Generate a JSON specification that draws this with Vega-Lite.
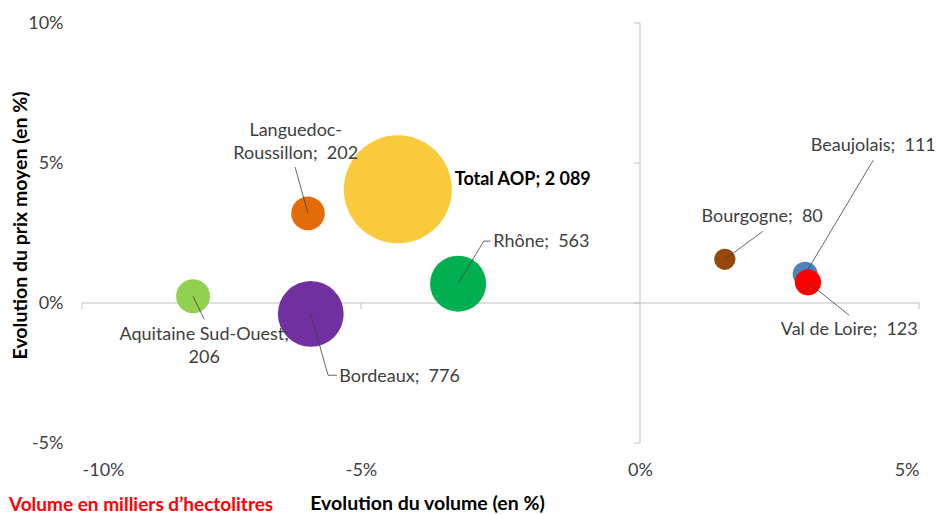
{
  "$schema": "https://vega.github.io/schema/vega-lite/v6.json",
  "width": 837,
  "height": 420,
  "autosize": {"type": "none"},
  "padding": {"left": 82, "top": 23, "right": 20, "bottom": 71},
  "background": "white",
  "config": {
    "view": {"stroke": null},
    "font": "Lato",
    "text": {"font": "Lato"},
    "axisX": {
      "labelExpr": "datum.value + '%'",
      "domain": false, "ticks": false, "grid": false,
      "labelPadding": 18,
      "labelFontSize": 18,
      "labelColor": "#404040",
      "labelFont": "Lato",
      "titleFont": "Lato",
      "titleFontSize": 19.5,
      "titleFontWeight": "bold",
      "titleColor": "#000000",
      "titleX": 345,
      "titleY": 60,
      "titleBaseline": "middle",
      "titleAlign": "center"
    },
    "axisY": {
      "labelExpr": "datum.value + '%'",
      "domain": false, "ticks": false, "grid": false,
      "labelPadding": 19,
      "labelFontSize": 18,
      "labelColor": "#404040",
      "labelFont": "Lato",
      "titleFont": "Lato",
      "titleFontSize": 19.5,
      "titleFontWeight": "bold",
      "titleColor": "#000000",
      "titleX": -62,
      "titleY": 202,
      "titleAngle": -90,
      "titleBaseline": "middle",
      "titleAlign": "center"
    }
  },
  "title": {
    "text": "Volume en milliers d’hectolitres",
    "orient": "bottom",
    "anchor": "start",
    "frame": "group",
    "dx": -73,
    "offset": -17,
    "color": "#FF0000",
    "fontSize": 19,
    "fontWeight": "bold",
    "font": "Lato"
  },
  "datasets": {
    "bubbles": [
      {"name": "Total AOP", "x": -4.34, "y": 4.06, "volume": 2089},
      {"name": "Bordeaux", "x": -5.9, "y": -0.39, "volume": 776},
      {"name": "Rhône", "x": -3.26, "y": 0.69, "volume": 563},
      {"name": "Aquitaine Sud-Ouest", "x": -8.01, "y": 0.24, "volume": 206},
      {"name": "Languedoc-Roussillon", "x": -5.95, "y": 3.2, "volume": 202},
      {"name": "Bourgogne", "x": 1.52, "y": 1.56, "volume": 80},
      {"name": "Beaujolais", "x": 2.96, "y": 1.03, "volume": 111},
      {"name": "Val de Loire", "x": 3.01, "y": 0.74, "volume": 123}
    ],
    "leaders": [
      {"name": "Aquitaine Sud-Ouest", "ord": 1, "x": -8.01, "y": 0.24},
      {"name": "Aquitaine Sud-Ouest", "ord": 2, "x": -7.81, "y": -0.58},
      {"name": "Languedoc-Roussillon", "ord": 1, "x": -5.95, "y": 3.2},
      {"name": "Languedoc-Roussillon", "ord": 2, "x": -6.18, "y": 4.85},
      {"name": "Rhône", "ord": 1, "x": -3.26, "y": 0.69},
      {"name": "Rhône", "ord": 2, "x": -2.8, "y": 2.21},
      {"name": "Rhône", "ord": 3, "x": -2.68, "y": 2.21},
      {"name": "Bordeaux", "ord": 1, "x": -5.9, "y": -0.39},
      {"name": "Bordeaux", "ord": 2, "x": -5.59, "y": -2.58},
      {"name": "Bordeaux", "ord": 3, "x": -5.43, "y": -2.58},
      {"name": "Bourgogne", "ord": 1, "x": 1.52, "y": 1.56},
      {"name": "Bourgogne", "ord": 2, "x": 2.2, "y": 2.56},
      {"name": "Beaujolais", "ord": 1, "x": 2.96, "y": 1.03},
      {"name": "Beaujolais", "ord": 2, "x": 4.18, "y": 5.1},
      {"name": "Val de Loire", "ord": 1, "x": 3.01, "y": 0.74},
      {"name": "Val de Loire", "ord": 2, "x": 3.75, "y": -0.44}
    ],
    "labelsCenter": [
      {"label": "Languedoc-\nRoussillon;\u00a0 202", "x": -6.17, "y": 6.13},
      {"label": "Aquitaine Sud-Ouest;\n206", "x": -7.81, "y": -1.15},
      {"label": "Bourgogne;\u00a0 80", "x": 2.19, "y": 3.07},
      {"label": "Beaujolais;\u00a0 111", "x": 4.18, "y": 5.61},
      {"label": "Val de Loire;\u00a0 123", "x": 3.75, "y": -0.98}
    ],
    "labelsLeft": [
      {"label": "Rhône;\u00a0 563", "x": -2.63, "y": 2.18},
      {"label": "Bordeaux;\u00a0 776", "x": -5.39, "y": -2.65}
    ],
    "labelsBold": [
      {"label": "Total AOP; 2 089", "x": -3.32, "y": 4.41}
    ],
    "vTicks": [{"x": 0, "y": -5}, {"x": 0, "y": 0}, {"x": 0, "y": 5}, {"x": 0, "y": 10}],
    "hTicks": [{"x": -10, "y": 0}, {"x": -5, "y": 0}, {"x": 5, "y": 0}],
    "vAxis": [{"x": 0, "y": -5, "y2": 10}],
    "hAxis": [{"x": -10, "x2": 5, "y": 0}]
  },
  "layer": [
    {
      "data": {"name": "vAxis"},
      "mark": {"type": "rule", "color": "#BFBFBF", "strokeWidth": 1},
      "encoding": {
        "x": {
          "field": "x", "type": "quantitative",
          "scale": {"domain": [-10, 5], "nice": false, "zero": false},
          "axis": {"values": [-10, -5, 0, 5]},
          "title": "Evolution du volume (en %)"
        },
        "y": {
          "field": "y", "type": "quantitative",
          "scale": {"domain": [-5, 10], "nice": false, "zero": false},
          "axis": {"values": [-5, 0, 5, 10]},
          "title": "Evolution du prix moyen (en %)"
        },
        "y2": {"field": "y2"}
      }
    },
    {
      "data": {"name": "hAxis"},
      "mark": {"type": "rule", "color": "#BFBFBF", "strokeWidth": 1},
      "encoding": {
        "x": {"field": "x", "type": "quantitative", "title": "Evolution du volume (en %)", "axis": {"values": [-10, -5, 0, 5]}},
        "x2": {"field": "x2"},
        "y": {"field": "y", "type": "quantitative", "title": "Evolution du prix moyen (en %)", "axis": {"values": [-5, 0, 5, 10]}}
      }
    },
    {
      "data": {"name": "vTicks"},
      "mark": {"type": "tick", "orient": "horizontal", "color": "#BFBFBF", "size": 6, "thickness": 1, "xOffset": -3, "opacity": 1},
      "encoding": {
        "x": {"field": "x", "type": "quantitative", "title": "Evolution du volume (en %)", "axis": {"values": [-10, -5, 0, 5]}},
        "y": {"field": "y", "type": "quantitative", "title": "Evolution du prix moyen (en %)", "axis": {"values": [-5, 0, 5, 10]}}
      }
    },
    {
      "data": {"name": "hTicks"},
      "mark": {"type": "tick", "orient": "vertical", "color": "#BFBFBF", "size": 6, "thickness": 1, "yOffset": 3, "opacity": 1},
      "encoding": {
        "x": {"field": "x", "type": "quantitative", "title": "Evolution du volume (en %)", "axis": {"values": [-10, -5, 0, 5]}},
        "y": {"field": "y", "type": "quantitative", "title": "Evolution du prix moyen (en %)", "axis": {"values": [-5, 0, 5, 10]}}
      }
    },
    {
      "data": {"name": "bubbles"},
      "mark": {"type": "circle", "opacity": 1},
      "encoding": {
        "x": {"field": "x", "type": "quantitative", "title": "Evolution du volume (en %)", "axis": {"values": [-10, -5, 0, 5]}},
        "y": {"field": "y", "type": "quantitative", "title": "Evolution du prix moyen (en %)", "axis": {"values": [-5, 0, 5, 10]}},
        "size": {
          "field": "volume", "type": "quantitative",
          "scale": {"type": "linear", "domain": [0, 2089], "range": [0, 11664], "zero": true},
          "legend": null
        },
        "color": {
          "field": "name", "type": "nominal",
          "scale": {
            "domain": ["Total AOP", "Bordeaux", "Rhône", "Aquitaine Sud-Ouest", "Languedoc-Roussillon", "Bourgogne", "Beaujolais", "Val de Loire"],
            "range": ["#F9CB3C", "#7030A0", "#00B050", "#92D050", "#E36C09", "#974806", "#4F81BD", "#FF0000"]
          },
          "legend": null
        }
      }
    },
    {
      "data": {"name": "leaders"},
      "mark": {"type": "line", "color": "#404040", "strokeWidth": 0.8},
      "encoding": {
        "x": {"field": "x", "type": "quantitative", "title": "Evolution du volume (en %)", "axis": {"values": [-10, -5, 0, 5]}},
        "y": {"field": "y", "type": "quantitative", "title": "Evolution du prix moyen (en %)", "axis": {"values": [-5, 0, 5, 10]}},
        "detail": {"field": "name"},
        "order": {"field": "ord"}
      }
    },
    {
      "data": {"name": "labelsCenter"},
      "mark": {"type": "text", "align": "center", "baseline": "middle", "fontSize": 18, "color": "#404040", "lineBreak": "\n", "lineHeight": 23, "font": "Lato"},
      "encoding": {
        "x": {"field": "x", "type": "quantitative", "title": "Evolution du volume (en %)", "axis": {"values": [-10, -5, 0, 5]}},
        "y": {"field": "y", "type": "quantitative", "title": "Evolution du prix moyen (en %)", "axis": {"values": [-5, 0, 5, 10]}},
        "text": {"field": "label"}
      }
    },
    {
      "data": {"name": "labelsLeft"},
      "mark": {"type": "text", "align": "left", "baseline": "middle", "fontSize": 18, "color": "#404040", "font": "Lato"},
      "encoding": {
        "x": {"field": "x", "type": "quantitative", "title": "Evolution du volume (en %)", "axis": {"values": [-10, -5, 0, 5]}},
        "y": {"field": "y", "type": "quantitative", "title": "Evolution du prix moyen (en %)", "axis": {"values": [-5, 0, 5, 10]}},
        "text": {"field": "label"}
      }
    },
    {
      "data": {"name": "labelsBold"},
      "mark": {"type": "text", "align": "left", "baseline": "middle", "fontSize": 18, "fontWeight": "bold", "color": "#000000", "font": "Lato"},
      "encoding": {
        "x": {"field": "x", "type": "quantitative", "title": "Evolution du volume (en %)", "axis": {"values": [-10, -5, 0, 5]}},
        "y": {"field": "y", "type": "quantitative", "title": "Evolution du prix moyen (en %)", "axis": {"values": [-5, 0, 5, 10]}},
        "text": {"field": "label"}
      }
    }
  ]
}
